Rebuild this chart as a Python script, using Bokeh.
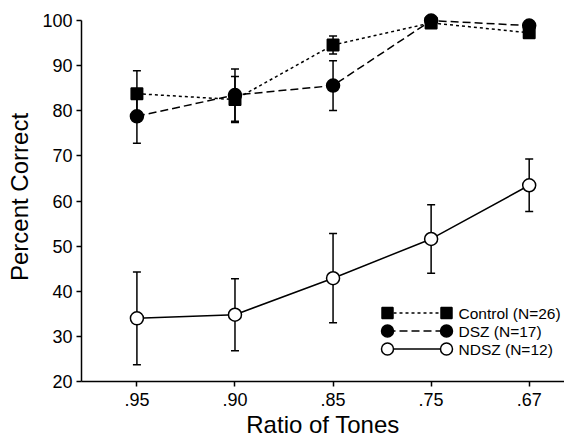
from bokeh.plotting import figure
from bokeh.models import Range1d, FixedTicker, Whisker, ColumnDataSource, TeeHead
from bokeh.core.properties import value
from bokeh.embed import file_html
from bokeh.resources import INLINE

# ---- data ----
ratios = [".95", ".90", ".85", ".75", ".67"]
control = [83.8, 82.5, 94.6, 99.5, 97.3]
control_err = [5.1, 5.1, 2.0, 0.5, 0.5]
dsz = [78.8, 83.5, 85.6, 100.0, 98.9]
dsz_err = [6.0, 5.8, 5.5, 0.3, 0.3]
ndsz = [34.0, 34.8, 42.9, 51.6, 63.5]
ndsz_err = [10.3, 8.0, 9.9, 7.6, 5.8]
y_ticks = [20, 30, 40, 50, 60, 70, 80, 90, 100]
legend_labels = ["Control (N=26)", "DSZ (N=17)", "NDSZ (N=12)"]

xs = list(range(len(ratios)))
FONT = "Liberation Sans"

p = figure(width=564, height=442, output_backend="svg", toolbar_location=None,
           x_range=Range1d(-0.565, 4.36), y_range=Range1d(20, 101.8),
           min_border_left=81, min_border_right=0, min_border_top=12, min_border_bottom=61)
p.outline_line_color = None
p.xgrid.grid_line_color = None
p.ygrid.grid_line_color = None
p.background_fill_color = "white"
p.border_fill_color = "white"

for ax in (p.xaxis[0], p.yaxis[0]):
    ax.axis_line_width = 1.5
    ax.axis_line_color = "black"
    ax.major_tick_line_width = 1.5
    ax.major_tick_line_color = "black"
    ax.major_tick_in = 0
    ax.major_tick_out = 5
    ax.minor_tick_line_color = None
    ax.major_label_text_font = FONT
    ax.major_label_text_font_size = "18px"
    ax.major_label_text_color = "black"
    ax.axis_label_text_font = FONT
    ax.axis_label_text_font_size = "24px"
    ax.axis_label_text_font_style = "normal"
    ax.axis_label_text_color = "black"

p.xaxis.ticker = FixedTicker(ticks=xs)
p.xaxis.major_label_overrides = {i: r for i, r in enumerate(ratios)}
p.xaxis.axis_label = "Ratio of Tones"
p.xaxis.major_label_standoff = 6
p.xaxis.axis_label_standoff = 2
p.yaxis.ticker = FixedTicker(ticks=y_ticks)
p.yaxis.bounds = (20, 100)
p.yaxis.axis_label = "Percent Correct"
p.yaxis.major_label_standoff = 4
p.yaxis.axis_label_standoff = 6

def add_series(vals, errs, marker, size, fill, dash):
    src = ColumnDataSource(dict(x=xs, y=vals,
                                lo=[v - e for v, e in zip(vals, errs)],
                                hi=[v + e for v, e in zip(vals, errs)]))
    w = Whisker(source=src, base="x", upper="hi", lower="lo", line_width=1.5, line_color="black",
                upper_head=TeeHead(size=8, line_width=1.5, line_color="black"),
                lower_head=TeeHead(size=8, line_width=1.5, line_color="black"))
    p.add_layout(w)
    p.line("x", "y", source=src, line_color="black", line_width=1.5, line_dash=dash)
    p.scatter("x", "y", source=src, marker=marker, size=size, fill_color=fill,
              line_color="black", line_width=1.5)

add_series(ndsz, ndsz_err, "circle", 13, "white", "solid")
add_series(dsz, dsz_err, "circle", 13, "black", "8 4")
add_series(control, control_err, "square", 11.5, "black", "3 3")

# ---- custom legend in pixel coordinates ----
p.extra_x_ranges = {"px": Range1d(81, 564)}
p.extra_y_ranges = {"py": Range1d(381, 12)}
leg_y = [312.5, 330.5, 348.5]
leg_marker = ["square", "circle", "circle"]
leg_fill = ["black", "black", "white"]
leg_dash = ["3 3", "8 4", "solid"]
leg_size = [11, 12, 12]
for yy, mk, fc, ds, sz, lab in zip(leg_y, leg_marker, leg_fill, leg_dash, leg_size, legend_labels):
    p.segment(x0=[387], y0=[yy], x1=[446], y1=[yy], line_color="black", line_width=1.5,
              line_dash=ds, x_range_name="px", y_range_name="py")
    p.scatter(x=[387, 446], y=[yy, yy], marker=mk, size=sz, fill_color=fc, line_color="black",
              line_width=1.5, x_range_name="px", y_range_name="py")
    p.text(x=[458], y=[yy], text=[lab], text_font=value(FONT), text_font_size="15.5px",
           text_baseline="middle", text_color="black", x_range_name="px", y_range_name="py")

open("out.html", "w").write(file_html(p, INLINE))
